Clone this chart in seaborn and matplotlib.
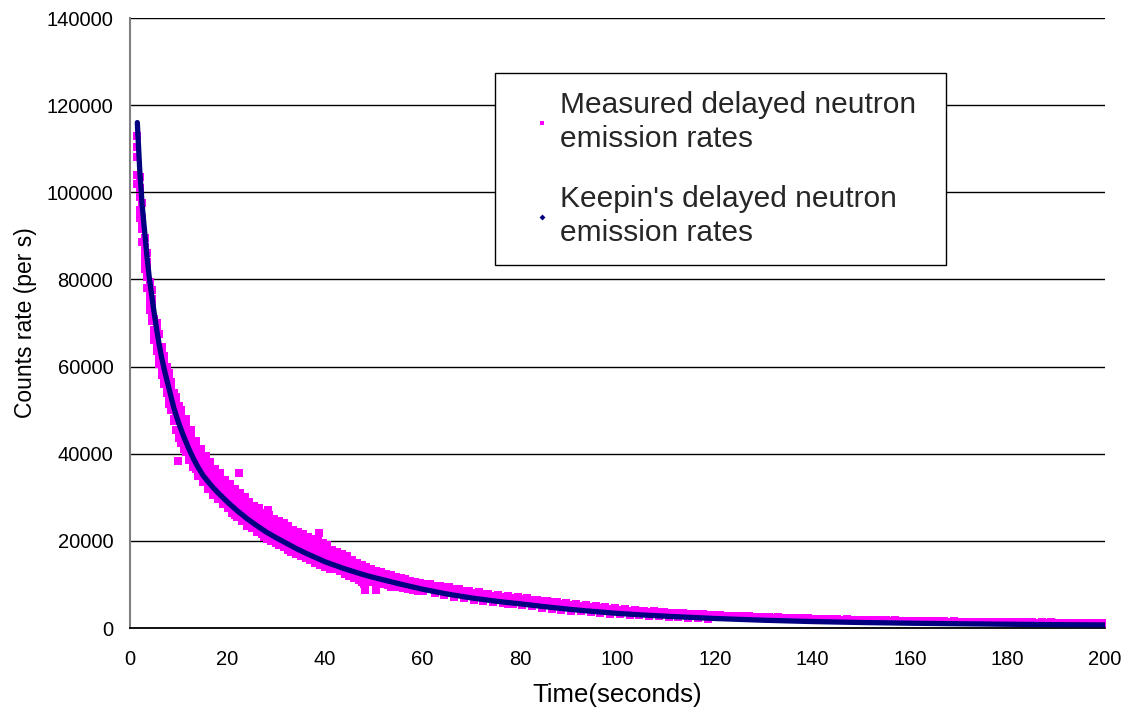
import matplotlib
matplotlib.use("Agg")
import matplotlib.pyplot as plt
import seaborn as sns
import pandas as pd
from matplotlib.lines import Line2D

# ---------------- data ----------------
keepin_t = [1.5, 2, 2.5, 3, 3.5, 4, 4.5, 5, 5.5, 6, 6.5, 7, 7.5, 8, 8.5, 9, 9.5, 10,
            11, 12, 13, 14, 15, 16, 17, 18, 19, 20, 22, 24, 26, 28, 30, 32, 34, 36,
            38, 40, 42, 44, 46, 48, 50, 55, 60, 65, 70, 75, 80, 85, 90, 95, 100, 105,
            110, 120, 130, 140, 150, 160, 170, 180, 190, 200]
keepin_rate = [116000, 105000, 97000, 91000, 85000, 80000, 76000, 72000, 68300, 65000,
               62000, 59500, 57200, 55000, 52700, 50500, 48700, 47000, 44000, 41300,
               38900, 36800, 35000, 33600, 32300, 31100, 30000, 28900, 26900, 25100,
               23500, 22000, 20700, 19500, 18300, 17200, 16200, 15200, 14400, 13600,
               12900, 12200, 11600, 10200, 8900, 7800, 6900, 6150, 5550, 4900, 4300,
               3800, 3350, 3000, 2700, 2180, 1780, 1480, 1260, 1100, 970, 860, 770, 700]

# measured counts, first 60 s (five readings per half-second)
meas_t_early = [1.5, 2.0, 2.5, 3.0, 3.5, 4.0, 4.5, 5.0, 5.5, 6.0, 6.5, 7.0, 7.5, 8.0,
                8.5, 9.0, 9.5, 10.0, 10.5, 11.0, 11.5, 12.0, 12.5, 13.0, 13.5, 14.0,
                14.5, 15.0, 15.5, 16.0, 16.5, 17.0, 17.5, 18.0, 18.5, 19.0, 19.5, 20.0,
                20.5, 21.0, 21.5, 22.0, 22.5, 23.0, 23.5, 24.0, 24.5, 25.0, 25.5, 26.0,
                26.5, 27.0, 27.5, 28.0, 28.5, 29.0, 29.5, 30.0, 30.5, 31.0, 31.5, 32.0,
                32.5, 33.0, 33.5, 34.0, 34.5, 35.0, 35.5, 36.0, 36.5, 37.0, 37.5, 38.0,
                38.5, 39.0, 39.5, 40.0, 40.5, 41.0, 41.5, 42.0, 42.5, 43.0, 43.5, 44.0,
                44.5, 45.0, 45.5, 46.0, 46.5, 47.0, 47.5, 48.0, 48.5, 49.0, 49.5, 50.0,
                50.5, 51.0, 51.5, 52.0, 52.5, 53.0, 53.5, 54.0, 54.5, 55.0, 55.5, 56.0,
                56.5, 57.0, 57.5, 58.0, 58.5, 59.0, 59.5, 60.0]
meas_rate_a = [113000, 103500, 94000, 89500, 84000, 79500, 75500, 71000, 69000, 64000,
               63500, 61000, 59500, 57500, 55000, 53500, 51000, 49500, 48500, 47500,
               46000, 45000, 43500, 42500, 41500, 40000, 39500, 38500, 37500, 37000,
               35500, 35000, 34500, 33500, 34000, 33000, 32000, 32500, 31000, 31500,
               30000, 30500, 29500, 28500, 29000, 28000, 27500, 28000, 26500, 27000,
               26000, 25500, 26000, 25000, 24500, 24000, 24500, 23500, 23000, 23500,
               22500, 22000, 22500, 21500, 21000, 21500, 20500, 20000, 20500, 19500,
               19000, 19500, 18500, 18500, 18000, 18500, 17500, 17000, 17500, 16500,
               16500, 16000, 16500, 15500, 15500, 15000, 15500, 14500, 14500, 14000,
               14500, 13500, 14000, 13500, 13000, 13500, 12500, 13000, 12500, 12000,
               12500, 12000, 11500, 12000, 11500, 11000, 11500, 11000, 10800, 11000,
               10500, 10600, 10300, 10400, 10100, 10200, 9900, 10000]
meas_rate_b = [108000, 99000, 91500, 85500, 80500, 75000, 72000, 68500, 64500, 62000,
               60000, 57500, 55000, 53000, 50000, 47500, 45500, 43500, 42500, 41000,
               40500, 39000, 38500, 38000, 36500, 36000, 35000, 34500, 33500, 33000,
               32000, 31500, 30500, 30000, 29500, 29000, 28500, 28000, 27500, 27000,
               26000, 26500, 25500, 25000, 24500, 24000, 23500, 23000, 23500, 22500,
               22000, 21500, 21000, 21500, 20500, 20000, 20500, 19500, 19000, 19500,
               18500, 19000, 18000, 18500, 17500, 17000, 17500, 16500, 17000, 16000,
               16500, 15500, 16000, 15500, 15000, 15500, 14500, 15000, 14000, 14500,
               13500, 14000, 13500, 13000, 13500, 12500, 13000, 12500, 12000, 12500,
               11500, 11000, 10500, 10000, 11000, 10500, 11000, 10500, 10500, 10500,
               10000, 10500, 10000, 10000, 9500, 10000, 9500, 9800, 9500, 9300,
               9400, 9100, 9200, 8900, 9000, 8800, 8700, 8600]
meas_rate_c = [110500, 101000, 93000, 87500, 82500, 77000, 74000, 70500, 66500, 63000,
               61500, 59000, 57000, 55500, 53500, 51500, 49500, 48000, 46500, 45500,
               44000, 42500, 41500, 40500, 39000, 38500, 37000, 36500, 36000, 35000,
               34500, 33500, 33000, 32500, 32000, 31500, 31000, 30500, 30000, 29500,
               29000, 28500, 28000, 27500, 27000, 26500, 26000, 25500, 25500, 25000,
               24500, 24000, 23500, 23500, 23000, 22500, 22500, 22000, 21500, 21500,
               21000, 20500, 20500, 20000, 19500, 19500, 19000, 19000, 18500, 18500,
               18000, 17500, 17500, 17000, 17000, 16500, 16500, 16000, 16000, 15500,
               15500, 15000, 15000, 14500, 14500, 14500, 14000, 14000, 13500, 13500,
               13500, 13000, 13000, 12500, 12500, 12500, 12000, 12000, 12000, 11500,
               11500, 11500, 11200, 11000, 11000, 10800, 10700, 10500, 10400, 10300,
               10200, 10000, 9900, 9800, 9700, 9600, 9500, 9400]
meas_rate_d = [104000, 96000, 97500, 84000, 86000, 74500, 77500, 67000, 70000, 60500,
               64500, 56000, 60000, 51500, 56500, 48000, 53000, 44500, 50000, 41500,
               48000, 38500, 45500, 37000, 43000, 35000, 41000, 33500, 39500, 32000,
               38000, 30500, 36500, 29500, 35500, 28500, 34000, 27500, 33000, 26500,
               32000, 25500, 31000, 24500, 30000, 23500, 29000, 23000, 28000, 22000,
               27500, 21500, 26500, 20500, 26000, 20000, 25000, 19500, 24500, 19000,
               24000, 18500, 23500, 17500, 22500, 17000, 22000, 16500, 21500, 16000,
               21000, 15500, 20500, 15000, 20000, 14500, 19500, 14000, 19000, 13500,
               18000, 13500, 17500, 13000, 17000, 12500, 16500, 12000, 15500, 11500,
               15000, 11500, 14500, 11000, 14000, 10500, 13500, 10500, 13000, 10000,
               12800, 10000, 12500, 9800, 12200, 9600, 11800, 9400, 11500, 9200,
               11200, 9000, 10900, 8800, 10600, 8600, 10400, 8400]
meas_rate_e = [102000, 94000, 88500, 82500, 78000, 73000, 70500, 66000, 63500, 67500,
               58000, 62500, 54000, 58500, 56000, 54000, 52500, 51000, 49500, 48000,
               46500, 45500, 44000, 43000, 42000, 41000, 40000, 39500, 38500, 38000,
               37000, 36500, 36000, 35500, 34500, 34000, 33500, 33000, 32500, 32000,
               31500, 31000, 30500, 30000, 29500, 29000, 28500, 28000, 27500, 27000,
               27000, 26500, 26000, 25500, 25500, 25000, 24500, 24000, 24000, 23500,
               23000, 23000, 22500, 22000, 22000, 21500, 21000, 21000, 20500, 20000,
               20000, 19500, 19500, 19000, 18500, 18500, 18000, 18000, 17500, 17000,
               17000, 16500, 16500, 16000, 16000, 15500, 15500, 15000, 15000, 14500,
               14500, 14000, 14000, 13500, 13500, 13000, 13000, 13000, 12500, 12500,
               12300, 12200, 12000, 11800, 11700, 11500, 11400, 11200, 11100, 10900,
               10800, 10600, 10500, 10300, 10200, 10000, 9900, 9800]

# measured counts, 61 s to 200 s (one reading per second)
meas_t_late = list(range(61, 201))
meas_rate_late = [9900, 9400, 9700, 9000, 9300, 8600, 8900, 8200, 8500, 7800,
                  8100, 7500, 7700, 7200, 7400, 6900, 7100, 6600, 6900, 6400,
                  6700, 6200, 6400, 5900, 6100, 5700, 5900, 5400, 5600, 5100,
                  5300, 4900, 5100, 4700, 4800, 4500, 4600, 4300, 4400, 4100,
                  4200, 3900, 4000, 3800, 3900, 3600, 3700, 3500, 3600, 3400,
                  3500, 3300, 3400, 3200, 3200, 3100, 3150, 3000, 3050, 2900,
                  2950, 2800, 2850, 2700, 2750, 2650, 2650, 2550, 2600, 2450,
                  2500, 2400, 2450, 2350, 2350, 2250, 2300, 2200, 2250, 2150,
                  2150, 2050, 2100, 2000, 2050, 1950, 2000, 1900, 1950, 1850,
                  1900, 1800, 1850, 1750, 1800, 1700, 1750, 1650, 1700, 1650,
                  1650, 1580, 1620, 1550, 1600, 1520, 1560, 1480, 1520, 1450,
                  1480, 1420, 1460, 1400, 1430, 1380, 1410, 1350, 1390, 1330,
                  1360, 1300, 1340, 1280, 1310, 1260, 1290, 1240, 1270, 1220,
                  1250, 1200, 1230, 1180, 1210, 1170, 1190, 1150, 1170, 1130]

# extra readings between whole seconds, 61.5 s to 119.5 s
meas_t_mid = [61.5, 62.5, 63.5, 64.5, 65.5, 66.5, 67.5, 68.5, 69.5, 70.5, 71.5, 72.5,
              73.5, 74.5, 75.5, 76.5, 77.5, 78.5, 79.5, 80.5, 81.5, 82.5, 83.5, 84.5,
              85.5, 86.5, 87.5, 88.5, 89.5, 90.5, 91.5, 92.5, 93.5, 94.5, 95.5, 96.5,
              97.5, 98.5, 99.5, 100.5, 101.5, 102.5, 103.5, 104.5, 105.5, 106.5, 107.5,
              108.5, 109.5, 110.5, 111.5, 112.5, 113.5, 114.5, 115.5, 116.5, 117.5,
              118.5, 119.5]
meas_rate_mid = [10200, 8000, 9700, 7600, 9300, 7200, 8900, 6900, 8500, 6500, 8200, 6200,
                 7900, 5900, 7600, 5700, 7300, 5450, 7100, 5200, 6800, 4950, 6500, 4700,
                 6300, 4450, 6000, 4250, 5800, 4000, 5500, 3800, 5300, 3650, 5100, 3450,
                 4900, 3300, 4600, 3150, 4400, 3000, 4200, 2900, 4000, 2750, 3800,
                 2650, 3600, 2550, 3450, 2450, 3350, 2350, 3250, 2250, 3150,
                 2150, 3050]

# a few scattered readings away from the band
meas_t_outlier = [9.9, 22.4, 28.3, 38.8, 48.2, 50.4, 66.5, 77.5, 88.5]
meas_rate_outlier = [38300, 35500, 27100, 21700, 8700, 8700, 7100, 5500, 4200]

y_ticks = [0, 20000, 40000, 60000, 80000, 100000, 120000, 140000]
x_ticks = [0, 20, 40, 60, 80, 100, 120, 140, 160, 180, 200]

label_measured = "Measured delayed neutron\nemission rates"
label_keepin = "Keepin's delayed neutron\nemission rates"

# ---------------- tables ----------------
measured = pd.concat([
    pd.DataFrame({"t": meas_t_early, "rate": meas_rate_a}),
    pd.DataFrame({"t": meas_t_early, "rate": meas_rate_b}),
    pd.DataFrame({"t": meas_t_early, "rate": meas_rate_c}),
    pd.DataFrame({"t": meas_t_early, "rate": meas_rate_d}),
    pd.DataFrame({"t": meas_t_early, "rate": meas_rate_e}),
    pd.DataFrame({"t": meas_t_late, "rate": meas_rate_late}),
    pd.DataFrame({"t": meas_t_mid, "rate": meas_rate_mid}),
    pd.DataFrame({"t": meas_t_outlier, "rate": meas_rate_outlier}),
], ignore_index=True)
keepin = pd.DataFrame({"t": keepin_t, "rate": keepin_rate})

# ---------------- plot ----------------
sns.set_style("white")
plt.rcParams["font.family"] = ["Liberation Sans", "DejaVu Sans"]

fig = plt.figure(figsize=(11.28, 7.12), dpi=100)
ax = fig.add_axes([130 / 1128, 1 - 628 / 712, 975 / 1128, 610 / 712])

MAGENTA = "#FF00FF"
NAVY = "#000080"

sns.scatterplot(data=measured, x="t", y="rate", ax=ax, color=MAGENTA, marker="s",
                s=26, linewidth=0, zorder=3, legend=False)
sns.lineplot(data=keepin, x="t", y="rate", ax=ax, color=NAVY, linewidth=3.8,
             zorder=4, legend=False, estimator=None, sort=True)

ax.set_xlim(0, 200)
ax.set_ylim(0, 140000)
ax.set_xticks(x_ticks)
ax.set_yticks(y_ticks)
ax.set_xticklabels([str(v) for v in x_ticks])
ax.set_yticklabels([str(v) for v in y_ticks])

ax.yaxis.grid(True, color="black", linewidth=1.0)
ax.xaxis.grid(False)
ax.set_axisbelow(True)

for side in ("top", "right"):
    ax.spines[side].set_visible(False)
ax.spines["left"].set_color("#808080")
ax.spines["left"].set_linewidth(1.5)
ax.spines["bottom"].set_color("black")
ax.spines["bottom"].set_linewidth(1.3)

ax.tick_params(axis="x", direction="in", length=6, width=1.2, color="black",
               labelsize=14.5, pad=16, labelcolor="black")
ax.tick_params(axis="y", direction="out", length=5, width=1.2, color="#808080",
               labelsize=14.5, pad=7, labelcolor="black")

ax.set_xlabel("Time(seconds)", fontsize=18.5, labelpad=10, color="black")
ax.set_ylabel("Counts rate (per s)", fontsize=16.5, labelpad=7, color="black")

handles = [
    Line2D([], [], linestyle="none", marker="s", markersize=3.5, color=MAGENTA,
           markeredgewidth=0),
    Line2D([], [], linestyle="none", marker="D", markersize=3, color=NAVY,
           markeredgewidth=0),
]
leg = ax.legend(handles, [label_measured, label_keepin], loc="upper left",
                bbox_to_anchor=(0.374, 0.6066, 0.463, 0.3034), mode="expand",
                fontsize=21.5, frameon=True,
                fancybox=False, framealpha=1, edgecolor="black", borderpad=0.6,
                handlelength=2.0, handletextpad=-0.4, labelspacing=1.05,
                borderaxespad=0)
for txt in leg.get_texts():
    txt.set_linespacing(1.3)
leg.get_frame().set_linewidth(1.0)

fig.savefig("out.png", dpi=100)
